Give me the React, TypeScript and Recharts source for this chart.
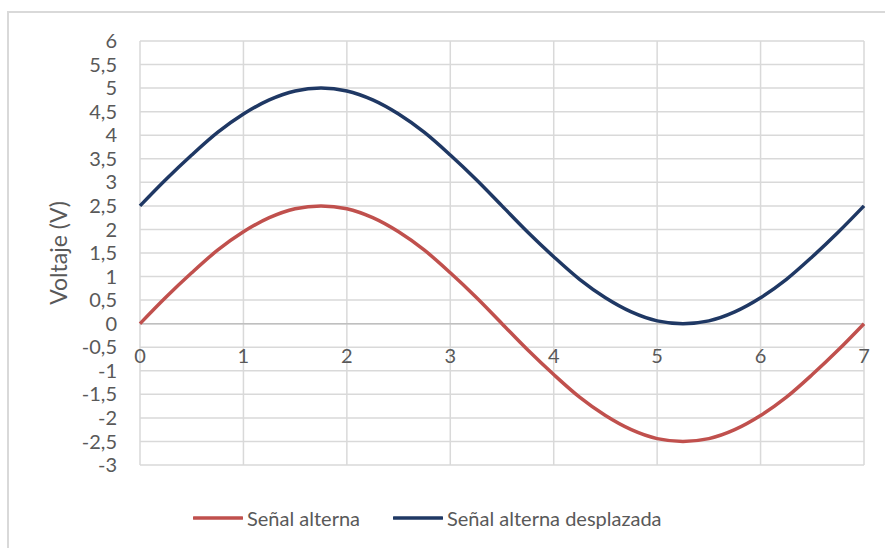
import React from 'react';
import { LineChart, Line, XAxis, YAxis, CartesianGrid, Legend, ReferenceLine, Label } from 'recharts';

const xValues = [
  0, 0.25, 0.5, 0.75, 1, 1.25, 1.5, 1.75, 2, 2.25, 2.5, 2.75, 3, 3.25, 3.5,
  3.75, 4, 4.25, 4.5, 4.75, 5, 5.25, 5.5, 5.75, 6, 6.25, 6.5, 6.75, 7,
];
const senalAlterna = [
  0, 0.56, 1.08, 1.56, 1.95, 2.25, 2.44, 2.5, 2.44, 2.25, 1.95, 1.56, 1.08, 0.56, 0,
  -0.56, -1.08, -1.56, -1.95, -2.25, -2.44, -2.5, -2.44, -2.25, -1.95, -1.56, -1.08, -0.56, 0,
];
const senalDesplazada = [
  2.5, 3.06, 3.58, 4.06, 4.45, 4.75, 4.94, 5, 4.94, 4.75, 4.45, 4.06, 3.58, 3.06, 2.5,
  1.94, 1.42, 0.94, 0.55, 0.25, 0.06, 0, 0.06, 0.25, 0.55, 0.94, 1.42, 1.94, 2.5,
];
const xTicks = [0, 1, 2, 3, 4, 5, 6, 7];
const yTicks = [-3, -2.5, -2, -1.5, -1, -0.5, 0, 0.5, 1, 1.5, 2, 2.5, 3, 3.5, 4, 4.5, 5, 5.5, 6];

const data = xValues.map((x, i) => ({
  x,
  alterna: senalAlterna[i],
  desplazada: senalDesplazada[i],
}));

const FONT = 'Lato, "Noto Sans", sans-serif';
const TEXT = '#595959';
const GRID = '#d9d9d9';
const Y_MIN = -3;
const Y_MAX = 6;
const TOP = 41;
const PLOT_H = 424;
const zeroY = TOP + (PLOT_H * (Y_MAX - 0)) / (Y_MAX - Y_MIN);

const fmt = (v: number) => String(v).replace('.', ',');

// x labels sit under the y=0 line like in Excel
const XTick = (props: any) => {
  const { x, payload } = props;
  return (
    <text x={x} y={zeroY + 39} textAnchor="middle" fill={TEXT} fontSize={20} fontFamily={FONT}>
      {payload.value}
    </text>
  );
};

const LegendContent = (props: any) => {
  const items = props.payload || [];
  return (
    <div style={{ display: 'flex', alignItems: 'center', height: 40, paddingLeft: 193, fontFamily: FONT }}>
      {items.map((it: any, i: number) => (
        <div key={i} style={{ display: 'flex', alignItems: 'center', marginRight: 33 }}>
          <svg width={50} height={6} style={{ marginRight: 4 }}>
            <line x1={1} y1={3} x2={49} y2={3} stroke={it.color} strokeWidth={3.5} strokeLinecap="round" />
          </svg>
          <span style={{ color: TEXT, fontSize: 20 }}>{it.value}</span>
        </div>
      ))}
    </div>
  );
};

export default function App() {
  return (
    <div style={{ position: 'absolute', left: 0, top: 0, width: 885, height: 548, background: '#fff', overflow: 'hidden' }}>
      <div
        style={{
          position: 'absolute', left: 7, top: 11, width: 900, height: 600,
          borderLeft: `2px solid ${GRID}`, borderTop: `2px solid ${GRID}`,
        }}
      />
      <div style={{ position: 'absolute', left: 0, top: 0 }}>
        <LineChart width={885} height={548} data={data} margin={{ top: TOP, right: 21, left: 0, bottom: 10 }}>
          <CartesianGrid stroke={GRID} strokeWidth={1.5} verticalValues={xTicks} horizontalValues={yTicks} />
          <XAxis
            dataKey="x"
            type="number"
            domain={[0, 7]}
            ticks={xTicks}
            axisLine={false}
            tickLine={false}
            height={33}
            tick={<XTick />}
            interval={0}
          />
          <YAxis
            type="number"
            domain={[Y_MIN, Y_MAX]}
            ticks={yTicks}
            interval={0}
            width={140}
            axisLine={false}
            tickLine={false}
            tickSize={0}
            tickMargin={23}
            tickFormatter={fmt}
            tick={{ fill: TEXT, fontSize: 20, fontFamily: FONT }}
          >
            <Label
              content={(p: any) => {
                const vb = p.viewBox;
                const cx = vb.x + 58;
                const cy = vb.y + vb.height / 2;
                return (
                  <text
                    x={cx}
                    y={cy}
                    transform={`rotate(-90 ${cx} ${cy})`}
                    textAnchor="middle"
                    dominantBaseline="central"
                    fill={TEXT}
                    fontSize={23}
                    fontFamily={FONT}
                  >
                    Voltaje (V)
                  </text>
                );
              }}
            />
          </YAxis>
          <ReferenceLine y={0} stroke="#bfbfbf" strokeWidth={1.5} />
          <Line
            type="monotone"
            dataKey="alterna"
            name="Señal alterna"
            stroke="#C0504D"
            strokeWidth={3.5}
            dot={false}
            isAnimationActive={false}
          />
          <Line
            type="monotone"
            dataKey="desplazada"
            name="Señal alterna desplazada"
            stroke="#1F3864"
            strokeWidth={3.5}
            dot={false}
            isAnimationActive={false}
          />
          <Legend verticalAlign="bottom" height={40} content={<LegendContent />} />
        </LineChart>
      </div>
    </div>
  );
}
